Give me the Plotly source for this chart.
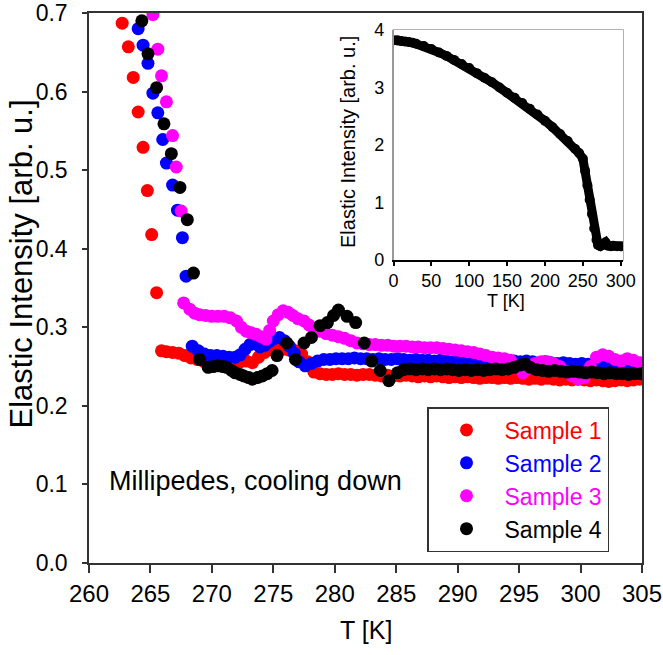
import plotly.graph_objects as go

# ---------------- data (T [K], elastic intensity) ----------------
sample1 = [(262.7, 0.687), (263.2, 0.657), (263.6, 0.618), (264.0, 0.574), (264.4, 0.529),
           (264.75, 0.474), (265.1, 0.418), (265.5, 0.344),
           (265.9, 0.270), (266.3, 0.269), (266.8, 0.268), (267.3, 0.267), (267.8, 0.264),
           (268.3, 0.261), (268.8, 0.259), (269.3, 0.257), (269.8, 0.255), (270.3, 0.254),
           (270.8, 0.253), (271.3, 0.253), (271.8, 0.254), (272.3, 0.256), (272.8, 0.257),
           (273.3, 0.255), (273.8, 0.262), (274.3, 0.268), (274.8, 0.272), (275.3, 0.273),
           (275.8, 0.272), (276.3, 0.271), (276.8, 0.270), (277.3, 0.266), (277.8, 0.256),
           (278.3, 0.243), (278.8, 0.241), (279.3, 0.240), (279.8, 0.240), (280.3, 0.241),
           (280.8, 0.240), (281.3, 0.240), (281.8, 0.239), (282.3, 0.240), (282.8, 0.240),
           (283.3, 0.239), (283.8, 0.238), (284.3, 0.239), (284.8, 0.238), (285.3, 0.238),
           (285.8, 0.239), (286.3, 0.238), (286.8, 0.237), (287.3, 0.238), (287.8, 0.237),
           (288.3, 0.238), (288.8, 0.237), (289.3, 0.236), (289.8, 0.237), (290.3, 0.236),
           (290.8, 0.237), (291.3, 0.236), (291.8, 0.235), (292.3, 0.236), (292.8, 0.236),
           (293.3, 0.235), (293.8, 0.236), (294.3, 0.235), (294.8, 0.236), (295.3, 0.235),
           (295.8, 0.234), (296.3, 0.235), (296.8, 0.234), (297.3, 0.235), (297.8, 0.234),
           (298.3, 0.233), (298.8, 0.234), (299.3, 0.233), (299.8, 0.234), (300.3, 0.233),
           (300.8, 0.232), (301.3, 0.233), (301.8, 0.232), (302.3, 0.231), (302.8, 0.232),
           (303.3, 0.233), (303.8, 0.232), (304.3, 0.233), (304.8, 0.234)]

sample2 = [(264.0, 0.680), (264.4, 0.659), (264.8, 0.636), (265.2, 0.598), (265.6, 0.573),
           (266.0, 0.539), (266.3, 0.509), (266.8, 0.481), (267.2, 0.449), (267.6, 0.414),
           (267.9, 0.365),
           (268.4, 0.276), (268.9, 0.270), (269.4, 0.266), (269.9, 0.264), (270.4, 0.264),
           (270.9, 0.263), (271.4, 0.262), (271.9, 0.262), (272.3, 0.265), (272.7, 0.272),
           (273.1, 0.278), (273.5, 0.279), (273.9, 0.275), (274.3, 0.277), (274.7, 0.282),
           (275.1, 0.286), (275.5, 0.287), (275.9, 0.283), (276.3, 0.276), (276.7, 0.267),
           (277.1, 0.256), (277.6, 0.251), (278.1, 0.254), (278.6, 0.257), (279.1, 0.259),
           (279.6, 0.259), (280.1, 0.260), (280.6, 0.260), (281.1, 0.260), (281.6, 0.261),
           (282.1, 0.260), (282.6, 0.260), (283.1, 0.259), (283.6, 0.260), (284.1, 0.259),
           (284.6, 0.259), (285.1, 0.260), (285.6, 0.259), (286.1, 0.258), (286.6, 0.259),
           (287.1, 0.258), (287.6, 0.258), (288.1, 0.257), (288.6, 0.258), (289.1, 0.257),
           (289.6, 0.256), (290.1, 0.257), (290.6, 0.256), (291.1, 0.257), (291.6, 0.256),
           (292.1, 0.258), (292.6, 0.259), (293.1, 0.258), (293.6, 0.257), (294.1, 0.258),
           (294.6, 0.257), (295.1, 0.256), (295.6, 0.257), (296.1, 0.256), (296.6, 0.255),
           (297.1, 0.256), (297.6, 0.255), (298.1, 0.254), (298.6, 0.255), (299.1, 0.254),
           (299.6, 0.253), (300.1, 0.254), (300.6, 0.253), (301.1, 0.252), (301.6, 0.251),
           (302.1, 0.252), (302.6, 0.251), (303.1, 0.250), (303.6, 0.251), (304.1, 0.250),
           (304.6, 0.249)]

sample3 = [(265.2, 0.698), (265.6, 0.654), (265.9, 0.620), (266.3, 0.587), (266.8, 0.544),
           (267.1, 0.504), (267.5, 0.448), (267.7, 0.331),
           (268.2, 0.323), (268.6, 0.318), (269.0, 0.316), (269.5, 0.315), (270.0, 0.314),
           (270.5, 0.314), (271.0, 0.314), (271.5, 0.312), (272.0, 0.308), (272.4, 0.300),
           (272.8, 0.295), (273.2, 0.293), (273.6, 0.291), (274.0, 0.288), (274.4, 0.285),
           (274.7, 0.296), (275.0, 0.308), (275.4, 0.316), (275.8, 0.321), (276.2, 0.319),
           (276.6, 0.315), (277.0, 0.311), (277.5, 0.308), (277.9, 0.303), (278.3, 0.298),
           (278.8, 0.295), (279.3, 0.292), (279.8, 0.290), (280.3, 0.288), (280.8, 0.286),
           (281.3, 0.283), (281.8, 0.280), (282.3, 0.279), (282.8, 0.278), (283.3, 0.278),
           (283.8, 0.277), (284.3, 0.277), (284.8, 0.276), (285.3, 0.276), (285.8, 0.276),
           (286.3, 0.275), (286.8, 0.275), (287.3, 0.274), (287.8, 0.274), (288.3, 0.274),
           (288.8, 0.273), (289.3, 0.272), (289.8, 0.271), (290.3, 0.270), (290.8, 0.269),
           (291.3, 0.268), (291.8, 0.266), (292.3, 0.264), (292.8, 0.262), (293.3, 0.261),
           (293.8, 0.260), (294.3, 0.258), (294.8, 0.250), (295.3, 0.242), (295.8, 0.248),
           (296.3, 0.254), (296.8, 0.256), (297.3, 0.256), (297.8, 0.254), (298.3, 0.250),
           (298.8, 0.244), (299.3, 0.238), (299.8, 0.234), (300.3, 0.236), (300.8, 0.250),
           (301.3, 0.262), (301.8, 0.265), (302.3, 0.263), (302.8, 0.259), (303.3, 0.257),
           (303.8, 0.260), (304.3, 0.258), (304.8, 0.255)]

sample4 = [(264.3, 0.690), (264.8, 0.648), (265.5, 0.605), (266.1, 0.559), (266.7, 0.521),
           (267.4, 0.478), (268.0, 0.437), (268.5, 0.369),
           (269.0, 0.259), (269.7, 0.249), (270.1, 0.250), (270.5, 0.251), (270.9, 0.250),
           (271.2, 0.249), (271.6, 0.245), (271.9, 0.242), (272.3, 0.240), (272.6, 0.238),
           (273.0, 0.236), (273.3, 0.234), (273.7, 0.236), (274.1, 0.238), (274.5, 0.241),
           (274.9, 0.245), (275.3, 0.264), (276.1, 0.280), (276.8, 0.259), (277.5, 0.280),
           (278.1, 0.287), (278.8, 0.302), (279.4, 0.306), (279.9, 0.315), (280.3, 0.322),
           (281.0, 0.314), (281.7, 0.306), (282.4, 0.280), (283.0, 0.257), (283.7, 0.245),
           (284.4, 0.232), (285.1, 0.242), (285.6, 0.246), (286.1, 0.247), (286.6, 0.246),
           (287.1, 0.247), (287.6, 0.246), (288.1, 0.247), (288.6, 0.246), (289.1, 0.247),
           (289.6, 0.246), (290.1, 0.245), (290.6, 0.246), (291.1, 0.245), (291.6, 0.246),
           (292.1, 0.245), (292.6, 0.246), (293.1, 0.247), (293.6, 0.246), (294.1, 0.247),
           (294.6, 0.249), (295.1, 0.252), (295.5, 0.253), (295.9, 0.249), (296.4, 0.246),
           (296.9, 0.245), (297.4, 0.244), (297.9, 0.245), (298.4, 0.244), (298.9, 0.243),
           (299.4, 0.244), (299.9, 0.243), (300.4, 0.242), (300.9, 0.243), (301.4, 0.242),
           (301.9, 0.241), (302.4, 0.242), (302.9, 0.241), (303.4, 0.241), (303.9, 0.240),
           (304.4, 0.241), (304.9, 0.241)]

# inset: full cooling curve
inset_T = [0, 5, 10, 15, 20, 25, 30, 40, 50, 60, 70, 80, 90, 100, 110, 120, 130, 140, 150,
           160, 170, 180, 190, 200, 210, 220, 230, 240, 245, 250, 253, 256, 259, 262, 265,
           268, 270, 273, 276, 280, 283, 287, 290, 295, 300, 305]
inset_I = [3.82, 3.82, 3.81, 3.80, 3.79, 3.78, 3.76, 3.72, 3.67, 3.61, 3.55, 3.48, 3.41,
           3.34, 3.25, 3.17, 3.09, 3.00, 2.91, 2.82, 2.73, 2.63, 2.53, 2.42, 2.31, 2.19,
           2.07, 1.93, 1.86, 1.76, 1.55, 1.30, 1.05, 0.80, 0.55, 0.35, 0.26, 0.24, 0.26,
           0.31, 0.25, 0.24, 0.25, 0.24, 0.24, 0.24]

series_names = ["Sample 1", "Sample 2", "Sample 3", "Sample 4"]
series_colors = ["#ff0000", "#0000ff", "#ff00ff", "#000000"]
series_data = [sample1, sample2, sample3, sample4]

x_ticks = [260, 265, 270, 275, 280, 285, 290, 295, 300, 305]
y_ticks = [0.0, 0.1, 0.2, 0.3, 0.4, 0.5, 0.6, 0.7]
inset_x_ticks = [0, 50, 100, 150, 200, 250, 300]
inset_y_ticks = [0, 1, 2, 3, 4]

FONT = "Liberation Sans, Arial, sans-serif"
AX = "#333333"

fig = go.Figure()
for name, color, data in zip(series_names, series_colors, series_data):
    fig.add_trace(go.Scatter(
        x=[p[0] for p in data], y=[p[1] for p in data],
        mode="markers", marker=dict(size=13, color=color, line=dict(width=0)),
        name=f"<span style='color:{color}'>{name}</span>",
        xaxis="x", yaxis="y"))

fig.add_trace(go.Scatter(
    x=inset_T, y=inset_I, mode="lines+markers",
    line=dict(color="black", width=9), marker=dict(size=10, color="black"),
    showlegend=False, xaxis="x2", yaxis="y2"))

# geometry (pixels -> paper)
W, H = 663, 655
ml, mr, mt, mb = 89, 21, 13, 92
pw, ph = W - ml - mr, H - mt - mb


def px_x(p):
    return (p - ml) / pw


def px_y(p):
    return (H - mb - p) / ph


ix0, ix1 = px_x(393.5), px_x(623)
iy0, iy1 = px_y(260), px_y(30)

fig.update_layout(
    width=W, height=H, margin=dict(l=ml, r=mr, t=mt, b=mb, autoexpand=False),
    paper_bgcolor="white", plot_bgcolor="white",
    font=dict(family=FONT, size=24, color="black"),
    showlegend=True,
    xaxis=dict(range=[260, 305], tickvals=x_ticks, ticks="outside", ticklen=8,
               tickwidth=1.5, tickcolor=AX, showline=True, linecolor=AX, linewidth=1.5,
               mirror=True, showgrid=False, zeroline=False, automargin=False,
               ticklabeloverflow="allow", tickfont=dict(size=24), domain=[0, 1]),
    yaxis=dict(range=[0, 0.7], tickvals=y_ticks, tickformat=".1f", ticks="outside",
               ticklen=5, tickwidth=1.5, tickcolor=AX, showline=True, linecolor=AX,
               linewidth=1.5, mirror=True, showgrid=False, zeroline=False,
               automargin=False, ticklabeloverflow="allow", tickfont=dict(size=23),
               ticklabelstandoff=10, domain=[0, 1]),
    xaxis2=dict(domain=[ix0, ix1], anchor="y2", range=[0, 303], tickvals=inset_x_ticks,
                ticks="outside", ticklen=4, tickwidth=1.5, tickcolor="black",
                showline=True, linecolor="black", linewidth=1.5, showgrid=False,
                zeroline=False, automargin=False, tickfont=dict(size=18)),
    yaxis2=dict(domain=[iy0, iy1], anchor="x2", range=[0, 4], tickvals=inset_y_ticks,
                ticks="", showline=True, linecolor="#999999", linewidth=1.5,
                showgrid=False, zeroline=False, automargin=False,
                tickfont=dict(size=18), ticklabelstandoff=4),
    legend=dict(x=px_x(427), y=px_y(407), xanchor="left", yanchor="top",
                bgcolor="white", bordercolor=AX, borderwidth=1.5,
                font=dict(size=23, family=FONT), itemwidth=66, tracegroupgap=0),
    shapes=[dict(type="rect", xref="paper", yref="paper", x0=ix0, x1=ix1, y0=iy0, y1=iy1,
                 line=dict(color="#999999", width=1.5), fillcolor="rgba(0,0,0,0)",
                 layer="below")],
    annotations=[
        dict(text="T [K]", xref="paper", yref="paper", x=0.5, y=px_y(630),
             showarrow=False, font=dict(size=25), xanchor="center", yanchor="middle"),
        dict(text="Elastic Intensity [arb. u.]", xref="paper", yref="paper",
             x=px_x(1), y=px_y(264), textangle=-90, showarrow=False,
             font=dict(size=31), xanchor="left", yanchor="middle"),
        dict(text="Millipedes, cooling down", xref="paper", yref="paper",
             x=px_x(107), y=px_y(481), showarrow=False, font=dict(size=27),
             xanchor="left", yanchor="middle"),
        dict(text="T [K]", xref="paper", yref="paper", x=px_x(506), y=px_y(301),
             showarrow=False, font=dict(size=18), xanchor="center", yanchor="middle"),
        dict(text="Elastic Intensity [arb. u.]", xref="paper", yref="paper",
             x=px_x(348), y=px_y(142), textangle=-90, showarrow=False,
             font=dict(size=20), xanchor="center", yanchor="middle"),
    ],
)

fig.write_html("out.html", config={"displayModeBar": False},
               post_script="document.body.style.margin='0';")
